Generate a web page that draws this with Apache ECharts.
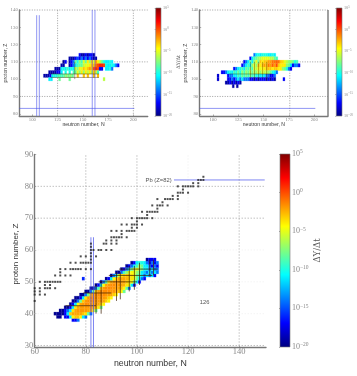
<!DOCTYPE html>
<html>
<head>
<meta charset="utf-8">
<style>
  html, body { margin: 0; padding: 0; background: #fff; }
  #chart { width: 357px; height: 376px; }
</style>
<script src="https://cdn.jsdelivr.net/npm/echarts@6/dist/echarts.min.js"></script>
</head>
<body>
<div id="chart"></div>
<script>
// lower panel, log10(dY/dt) per row
const mainZ = [38, 39, 40, 41, 42, 43, 44, 45, 46, 47, 48, 49, 50, 51, 51, 52, 53, 54, 55, 56, 57];
const mainStart = [75, 69, 68, 70, 72, 74, 75, 76, 78, 80, 82, 84, 86, 79, 88, 90, 92, 94, 96, 98, 104];
const mainLog = [
  [-17, -17, -14],
  [-19.5, -19.5, null, -17, -17, -11, -4.2, -3, -3, -4.2, -11, -14],
  [-19.5, -19.5, -19.5, -19.5, -17, -11, -3, -2.2, -2.2, -2.2, -2.2, -3, -3.8, -8, -14],
  [-19.5, -19.5, -17, -14, -11, -3.8, -2.2, -1.9, -1.9, -1.9, -1.9, -2.2, -2.2, -3.5, -8],
  [-19.5, -19.5, -17, -11, -3.8, -2.2, -1.9, -1.9, -1.9, -1.9, -1.9, -2.2, -2.6, -3.8, -8],
  [-19.5, -17, -11, -4.5, -2.2, -1.9, -1.6, -1.6, -1.9, -1.9, -1.9, -2.2, -3.2, -4.2],
  [-19.5, -19.5, -14, -8, -3, -1.9, -1.6, -1.6, -1.6, -1.9, -1.9, -1.9, -2.2, -3.2, -4.2],
  [-19.5, -19.5, -17, -11, -3.8, -1.9, -1.6, -1.6, -1.6, -1.9, -1.9, -1.9, -2.2, -3.2, -4.2],
  [-19.5, -19.5, -14, -8, -2.6, -1.9, -1.6, -1.6, -1.6, -1.6, -1.9, -1.9, -2.2, -3.2, -4.2],
  [-19.5, -19.5, -14, -8, -3, -1.9, -1.6, -1.6, -1.6, -1.6, -1.9, -1.9, -2.2, -3, -4.2, -8],
  [-19.5, -19.5, -14, -9, -3.2, -1.9, -1.6, -1.6, -1.6, -1.9, -1.9, -2.2, -3, -4.2, -8, -14],
  [-19.5, -17, -11, -4.5, -2.2, -1.9, -1.6, -1.6, -1.9, -1.9, -2.2, -2.6, -3.8, -4.5, -11, -17],
  [-19.5, -14, -9, -3.8, -2.2, -1.9, -1.9, -1.9, -2.2, -2.2, -3, -3.8, -4.5, -8, -11, -17],
  [-16],
  [-19.5, -17, -11, -4.5, -3, -2.2, -2.2, -2.2, -2.6, -3, -3.8, -4.5, -8, -11, -14, -17],
  [-19.5, -14, -11, -5, -3.8, -3, -3, -3.2, -3.8, -4.5, -8, -9, -11, -14, -11, -14, -11, -17],
  [-19.5, -19.5, -14, -9, -7, -5, -4.5, -4.5, -7, -8, -11, -12, -14, -11, -14, -11, -14],
  [-19.5, -17, -14, -11, -8, -6, -5, -6, -8, -11, -11, -14, -11, -14, -14],
  [-19.5, -17, -14, -11, -9, -7, -8, -11, -11, -14, -17, -14, -17],
  [-19.5, -17, -11, -10, -10, -11, -14, -17, -14, -17, -14],
  [-19.5, -17, -17, -17]
];

// black dots, one list of N per Z
const dotZ = [83, 82, 81, 80, 79, 78, 77, 76, 75, 74, 73, 72, 71, 70, 69, 68, 67, 66, 65, 64, 63, 62, 61, 60, 59, 58, 57, 56, 54, 53, 52, 50, 49, 48, 47, 46, 44];
const dotN = [
  [126], [124, 125, 126], [122, 124], [116, 118, 119, 120, 121, 122, 124], [118],
  [116, 117, 118, 120], [114, 116], [108, 111, 112, 113, 114, 116], [110],
  [106, 108, 109, 110, 112], [108], [102, 104, 105, 106, 107, 108], [104],
  [98, 100, 101, 102, 103, 104, 106], [100], [94, 96, 98, 99, 100, 102], [98, 100],
  [90, 92, 94, 96, 97, 98, 99], [94], [90, 91, 92, 93, 94, 96], [88, 90, 92],
  [82, 87, 88, 90, 92], [82], [82, 83, 85, 86, 88, 90], [82], [78, 80, 82, 84], [82],
  [74, 76, 78, 79, 80, 81, 82], [70, 72, 74, 75, 76, 77, 78, 80, 82], [70],
  [68, 70, 72, 74], [62, 64, 65, 66, 67, 68, 69, 70], [64, 66],
  [60, 62, 64, 65, 66, 68], [60, 62], [60, 62, 64], [60]
];

// upper left panel, cells two units wide
const leftZ = [114, 112, 110, 108, 106, 104, 102, 102, 100, 100, 100, 100];
const leftStart = [147, 137, 131, 129, 123, 117, 112, 145, 117, 127, 137, 171];
const leftLog = [
  [-17, -19, -19, -17, -19, -17, -17, -19],
  [-19, -19, -19, -17, -15, -17, -14, -17, -14, -17, -14, -17, -19, -19],
  [-19.5, -17, null, -19, -17, -14, -8, -10, -7, -9, -5, -8, -4, -7, -3, -5, -2, -4, -6, -8, -10, -11, -11, -10, -11],
  [-19, -19, null, null, -19, -17, -14, -11, -9, -8, -8, -6, -5, -5, -4, -3, -3, -1, 0, 1, 1, 0.5, -10, -11, -11, -10, -11, -14, -17],
  [-19, -19, -19, -11, -10, -11, -9, -11, -10, -11, -6, -7, -4, -5, -3, -4, -3, -2, -3, 0, 1, 0, -17, -17, null, -11, -11, -10, -14],
  [-19, -19, -19, -19, -17, -17, -11, null, -10, null, -10, null, -9, -8, -5, -7, -4, -7, -4, -6, -4, -6, -3, -5, -9],
  [-19, -19, -19, -17, -11, -10, -10, -9, -9, -9, -8, -7, -8, -7, -8],
  [-3, null, null, -3, null, -3, null, null, -3, null, -3],
  [-11, -11],
  [-8],
  [-8],
  [-6]
];

// upper right panel
const rightZ = [114, 112, 110, 108, 106, 104, 102, 102, 100, 100, 100, 98, 96];
const rightStart = [141, 137, 131, 129, 121, 109, 105, 115, 105, 115, 170, 113, 120];
const rightLog = [
  [-14, -11, -10, -11, -10, -10, -10, -11, -11, -10, -11],
  [-17, -11, -9, -8, -7, -6, -5, -5, -5, -5, -6, -6, -8, -9],
  [-17, -14, -11, -8, -11, -7, -5, -8, -3, -4, -3, -3, -2, -2, -1, -1, -0.5, -1, -3, -3.5, -5, -6, -7, -7, -8, -10, -9],
  [-17, -14, -11, -9, -11, -7, -5, -7, -3, -4, -3, -2, -3, -1, -2, -0.5, -2, 0, -3, -4, -4, -4, -7, -8, -11, -17, -14, -14, -17],
  [-17, -14, -11, -10, -9, -11, -8, -9, -7, -9, -5, -6, -4, -5, -4, -4, -3, -3, -3, -4, -3, -3, -4, -4, -7, -8, -10, -14, -17],
  [-17, -17, -14, -11, -10, -11, -9, -10, -8, -10, -7, -9, -7, -8, -6, -8, -6, -7, -5, -7, -5, -6, -6, -7, -8, -10, -11, -14],
  [-18],
  [-17, -14, -14, -11, -11, -9, -10, -8, -9, -8, -9, -8, -9, -9, -10, -10, -11, -11, -11, -14, -14, -17, -17, -14],
  [-18],
  [-17, -17, -14, -17, -14, -11, -14, -11, -14, -14, -14, -17, -17, -19, -17, -19, -17, -17, -17, -19, -17, -19, -17, -19],
  [-17],
  [-19, -19, -17, -19, -17, -19, -17, -19],
  [-19, null, -19]
];

// line segments as [N1, Z1, N2, Z2]
const mainGridStrong = [[80, 30, 80, 90], [100, 30, 100, 90], [140, 30, 140, 90], [60, 80, 150, 80], [60, 70, 150, 70], [60, 30, 150, 30]];
const mainGridFaint = [[120, 30, 120, 90], [60, 60, 150, 60], [60, 50, 150, 50], [60, 40, 150, 40]];
const mainBlue = [[82, 29.4, 82, 64], [83, 29.4, 83, 64], [114.5, 82, 150, 82]];
const mainDark = [
  [72, 42.5, 84, 42.5], [79, 46.5, 90, 46.5], [85, 50, 100, 50], [89, 52, 106, 52], [93, 54, 108, 54],
  [84, 40, 84, 49], [86, 40, 86, 49.5], [92, 44, 92, 53], [93.5, 44.5, 93.5, 53],
  [97, 47, 97, 55], [99, 47.5, 99, 55], [101, 49, 101, 56], [105, 52, 105, 57], [106.5, 52, 106.5, 57]
];
const leftGrid = [[125, 80, 125, 140], [200, 80, 200, 140], [87.1, 140, 214.2, 140], [87.1, 110, 214.2, 110], [87.1, 90, 214.2, 90]];
const leftBlue = [[104.3, 78.7, 104.3, 137], [106.9, 78.7, 106.9, 137], [159.3, 78.7, 159.3, 140], [162, 78.7, 162, 140], [87.1, 83.1, 201, 83.1]];
const leftDark = [[118, 103, 166, 103], [118, 101, 166, 101], [142, 100, 142, 110]];
const rightGrid = [[175.8, 80, 175.8, 140], [86.9, 140, 213.5, 140], [86.9, 110, 213.5, 110], [86.9, 90, 213.5, 90]];
const rightBlue = [[86.9, 83.1, 201, 83.1]];
const rightDark = [[116, 103, 158, 103], [137, 100, 137, 110], [141, 100, 141, 110], [145, 100, 145, 110], [149, 100, 149, 110], [153, 100, 153, 110]];
const rightSpine = [[213.5, 78.7, 213.5, 140]];

const mainTicksX = [60, 80, 100, 120, 140];
const ticksZ = [30, 40, 50, 60, 70, 80, 90];
const smallTicksX = [100, 125, 150, 175, 200];
const smallTicksZ = [80, 90, 100, 110, 120, 130, 140];

const noteN = [103.4, 124.6];
const noteZ = [82, 43.4];
const noteText = ['Pb (Z=82)', '126'];

const jet = ['#00007f', '#0000ff', '#007fff', '#00ffff', '#7fff7f', '#ffff00', '#ff7f00', '#ff0000', '#7f0000'];

function buildCells(zs, starts, logs, step) {
  const out = [];
  zs.forEach((z, i) => {
    logs[i].forEach((v, j) => {
      if (v !== null) out.push([starts[i] + j * step, z, v]);
    });
  });
  return out;
}

function cellSeries(cells, idx, w, h) {
  return {
    type: 'custom',
    xAxisIndex: idx,
    yAxisIndex: idx,
    z: 3,
    silent: true,
    data: cells,
    encode: { x: 0, y: 1 },
    renderItem(params, api) {
      const c = api.coord([api.value(0), api.value(1)]);
      const s = api.size([w, h]);
      return {
        type: 'rect',
        shape: { x: c[0] - s[0] / 2, y: c[1] - s[1] / 2, width: s[0], height: s[1] },
        style: { fill: api.visual('color'), stroke: api.visual('color'), lineWidth: 0.2 }
      };
    }
  };
}

function lineSeries(rows, idx, color, width, dash, z) {
  return {
    type: 'custom',
    xAxisIndex: idx,
    yAxisIndex: idx,
    z: z,
    silent: true,
    data: rows,
    encode: { x: [0, 2], y: [1, 3] },
    renderItem(params, api) {
      const a = api.coord([api.value(0), api.value(1)]);
      const b = api.coord([api.value(2), api.value(3)]);
      return {
        type: 'line',
        shape: { x1: a[0], y1: a[1], x2: b[0], y2: b[1] },
        style: { stroke: color, lineWidth: width, lineDash: dash }
      };
    }
  };
}

// colorbar: one rect through the whole -20..5 range, jet gradient top to bottom
function barSeries(idx) {
  const stops = jet.map((c, i) => ({ offset: 1 - i / (jet.length - 1), color: c })).reverse();
  return {
    type: 'custom',
    xAxisIndex: idx,
    yAxisIndex: idx,
    z: 3,
    silent: true,
    data: [[0, -20, 1, 5]],
    encode: { x: [0, 2], y: [1, 3] },
    renderItem(params, api) {
      const a = api.coord([api.value(0), api.value(3)]);
      const b = api.coord([api.value(2), api.value(1)]);
      return {
        type: 'rect',
        shape: { x: a[0], y: a[1], width: b[0] - a[0], height: b[1] - a[1] },
        style: {
          fill: new echarts.graphic.LinearGradient(0, 0, 0, 1, stops),
          stroke: '#777',
          lineWidth: 0.6
        }
      };
    }
  };
}

const dotData = [];
dotZ.forEach((z, i) => dotN[i].forEach((n) => dotData.push([n, z])));

const noteData = noteN.map((n, i) => [n, noteZ[i], i]);

const axisLine = { lineStyle: { color: '#777', width: 1.4 } };

function plotAxes(gridIndex, xr, yr, xTicks, yTicks, tickSize, nameSizeX, nameSizeY, nameGapX, nameGapY, namePad) {
  return {
    x: {
      type: 'value', gridIndex, min: xr[0], max: xr[1],
      name: 'neutron number, N', nameLocation: 'middle', nameGap: nameGapX, nameMoveOverlap: false,
      nameTextStyle: { fontFamily: 'Liberation Sans', fontSize: nameSizeX, color: '#333' },
      axisLine,
      splitLine: { show: false },
      axisTick: { show: true, length: 1.5, inside: true, customValues: xTicks, lineStyle: { color: '#777', width: 0.6 } },
      axisLabel: { customValues: xTicks, margin: tickSize > 6 ? 0 : 1, fontFamily: 'Liberation Serif', fontSize: tickSize, color: '#888', hideOverlap: false }
    },
    y: {
      type: 'value', gridIndex, min: yr[0], max: yr[1],
      name: 'proton number, Z', nameLocation: 'middle', nameGap: nameGapY, nameMoveOverlap: false,
      nameTextStyle: { fontFamily: 'Liberation Sans', fontSize: nameSizeY, color: '#333', padding: [0, namePad, 0, 0] },
      axisLine,
      splitLine: { show: false },
      axisTick: { show: true, length: 1.5, inside: true, customValues: yTicks, lineStyle: { color: '#777', width: 0.6 } },
      axisLabel: { customValues: yTicks, margin: 1.5, fontFamily: 'Liberation Serif', fontSize: tickSize, color: '#888', hideOverlap: false }
    }
  };
}

function barAxes(gridIndex, tickSize, expSize, nameSize, nameGap) {
  return {
    x: { type: 'value', gridIndex, show: false, min: 0, max: 1 },
    y: {
      type: 'value', gridIndex, position: 'right', min: -20, max: 5, interval: 5,
      name: '\u0394Y/\u0394t', nameLocation: 'middle', nameGap, nameRotate: 90,
      nameTextStyle: { fontFamily: 'DejaVu Serif', fontSize: nameSize, color: '#555' },
      axisLine: { show: false },
      axisTick: { show: true, length: 1, inside: true, lineStyle: { color: '#777', width: 0.6 } },
      splitLine: { show: false },
      axisLabel: {
        margin: 2,
        formatter: (v) => '{a|10}{e|' + String(v).replace('-', '\u2212') + '}',
        rich: {
          a: { fontFamily: 'Liberation Serif', fontSize: tickSize, color: '#888' },
          e: { fontFamily: 'Liberation Serif', fontSize: expSize, color: '#888', padding: [0, 0, tickSize * 0.5, 0] }
        }
      }
    }
  };
}

function bar(seriesIndex) {
  return {
    type: 'continuous', seriesIndex, dimension: 2, min: -20, max: 5, show: false,
    inRange: { color: jet }
  };
}

const a1 = plotAxes(0, [87.1, 214.2], [78.7, 140], smallTicksX, smallTicksZ, 4.8, 5.1, 5.1, 6, 11.3, 0);
const a2 = plotAxes(1, [86.9, 213.5], [78.7, 140], smallTicksX, smallTicksZ, 4.8, 5.1, 5.1, 6, 11.3, 0);
const a3 = plotAxes(2, [60, 150.5], [29.37, 90], mainTicksX, ticksZ, 8.5, 8.8, 8, 11.5, 14.7, 6);
const b1 = barAxes(3, 4.2, 3, 5, 9.5);
const b2 = barAxes(4, 4.2, 3, 5, 9.5);
const b3 = barAxes(5, 8, 5.5, 8.5, 23);

const option = {
  animation: false,
  backgroundColor: '#fff',
  grid: [
    { left: 19.3, top: 10, width: 128.4, height: 106, outerBoundsMode: 'none' },
    { left: 199.7, top: 10, width: 128.3, height: 106, outerBoundsMode: 'none' },
    { left: 34.7, top: 154.5, width: 231.3, height: 193, outerBoundsMode: 'none' },
    { left: 155.7, top: 8, width: 5.3, height: 108, outerBoundsMode: 'none' },
    { left: 336.3, top: 8, width: 5.7, height: 108, outerBoundsMode: 'none' },
    { left: 280, top: 154, width: 10, height: 193, outerBoundsMode: 'none' }
  ],
  xAxis: [a1.x, a2.x, a3.x, b1.x, b2.x, b3.x],
  yAxis: [a1.y, a2.y, a3.y, b1.y, b2.y, b3.y],
  visualMap: [bar(0), bar(1), bar(2)],
  series: [
    cellSeries(buildCells(leftZ, leftStart, leftLog, 2), 0, 2, 2),
    cellSeries(buildCells(rightZ, rightStart, rightLog, 2), 1, 2, 2),
    cellSeries(buildCells(mainZ, mainStart, mainLog, 1), 2, 1, 1),
    lineSeries(leftGrid, 0, '#888', 0.8, [1, 1.5], 1),
    lineSeries(rightGrid, 1, '#888', 0.8, [1, 1.5], 1),
    lineSeries(mainGridStrong, 2, '#999', 0.9, [1, 2], 1),
    lineSeries(mainGridFaint, 2, '#ededed', 0.9, [1, 2], 1),
    lineSeries(leftDark, 0, 'rgba(60,30,0,0.6)', 0.7, null, 4),
    lineSeries(rightDark, 1, 'rgba(60,30,0,0.5)', 0.7, null, 4),
    lineSeries(mainDark, 2, 'rgba(60,30,0,0.7)', 1, null, 4),
    lineSeries(leftBlue, 0, 'rgba(70,80,235,0.6)', 1, null, 5),
    lineSeries(rightBlue, 1, 'rgba(70,80,235,0.6)', 1, null, 5),
    lineSeries(mainBlue, 2, 'rgba(70,80,235,0.7)', 1, null, 5),
    lineSeries(rightSpine, 1, '#777', 1.4, null, 5),
    {
      type: 'scatter',
      xAxisIndex: 2,
      yAxisIndex: 2,
      symbol: 'rect',
      symbolSize: 2,
      silent: true,
      z: 6,
      itemStyle: { color: '#222' },
      data: dotData
    },
    {
      type: 'custom',
      xAxisIndex: 2,
      yAxisIndex: 2,
      z: 6,
      silent: true,
      data: noteData,
      encode: { x: 0, y: 1 },
      renderItem(params, api) {
        const c = api.coord([api.value(0), api.value(1)]);
        return {
          type: 'text',
          x: c[0],
          y: c[1],
          style: {
            text: noteText[api.value(2)],
            fontFamily: 'Liberation Sans',
            fontSize: 5.8,
            fill: '#555',
            align: 'left',
            verticalAlign: 'middle'
          }
        };
      }
    },
    barSeries(3),
    barSeries(4),
    barSeries(5)
  ]
};

const chart = echarts.init(document.getElementById('chart'), null, { renderer: 'canvas' });
chart.setOption(option);
</script>
</body>
</html>
